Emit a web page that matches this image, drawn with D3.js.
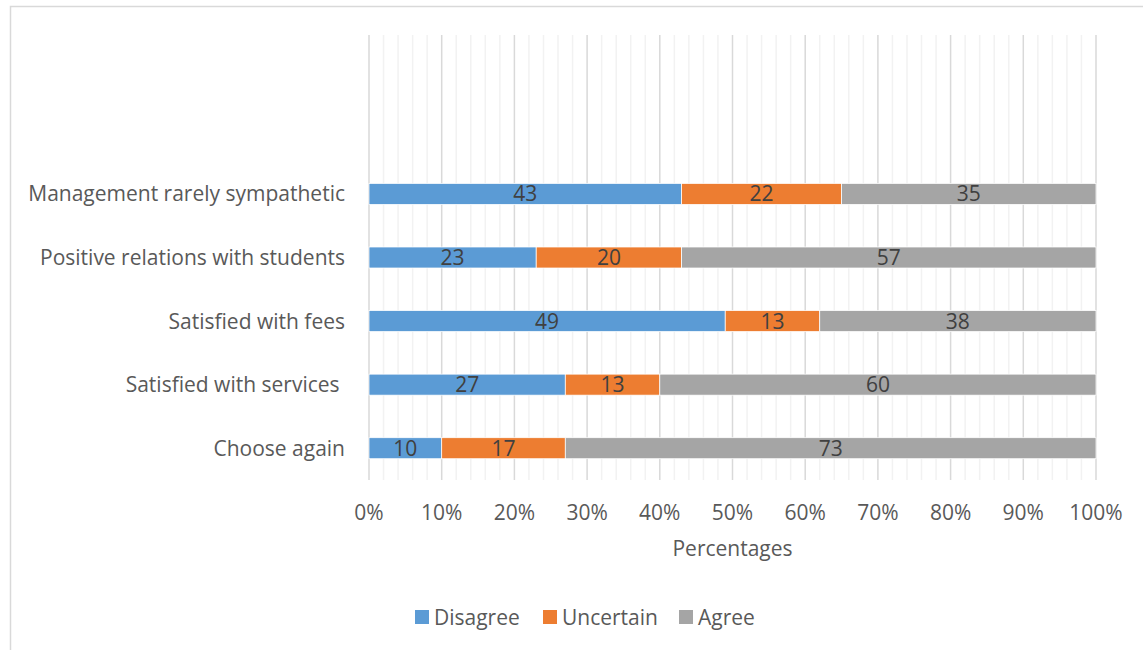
<!DOCTYPE html>
<html><head><meta charset="utf-8">
<script src="https://cdn.jsdelivr.net/npm/d3@7"></script>
<style>body{margin:0;background:#fff}svg{display:block}</style>
</head><body>
<script>
const categories = ["Choose again","Satisfied with services ","Satisfied with fees","Positive relations with students","Management rarely sympathetic"];
const disagree = [10,27,49,23,43];
const uncertain = [17,13,13,20,22];
const agree = [73,60,38,57,35];
const seriesNames = ["Disagree","Uncertain","Agree"];
const colors = ["#5B9BD5","#ED7D31","#A5A5A5"];
const tickLabels = ["0%","10%","20%","30%","40%","50%","60%","70%","80%","90%","100%"];

const W=1143,H=650;
const svg=d3.select("body").append("svg").attr("width",W).attr("height",H);
const font="'Open Sans', Lato, sans-serif";
const fs=21;

// outer border
svg.append("path").attr("d",`M10.5,${H} V6.5 H${W}`).attr("fill","none").attr("stroke","#D9D9D9").attr("stroke-width",1.5);

const x0=369,x1=1096,yTop=35,yBot=480;
const x=d3.scaleLinear().domain([0,100]).range([x0,x1]);
const band=(yBot-yTop)/7;
const y=d3.scaleBand().domain(categories).range([yBot,yBot-5*band]).paddingInner(0.66).paddingOuter(0.33);

// minor grid
const minor=d3.range(0,101,2).filter(v=>v%10!==0);
svg.append("g").selectAll("line").data(minor).join("line")
 .attr("x1",d=>x(d)).attr("x2",d=>x(d)).attr("y1",yTop).attr("y2",yBot)
 .attr("stroke","#F2F2F2").attr("stroke-width",1.5);
const major=d3.range(0,101,10);
svg.append("g").selectAll("line").data(major).join("line")
 .attr("x1",d=>x(d)).attr("x2",d=>x(d)).attr("y1",yTop).attr("y2",yBot)
 .attr("stroke","#D9D9D9").attr("stroke-width",1.5);

const rows=categories.map((c,i)=>({cat:c,Disagree:disagree[i],Uncertain:uncertain[i],Agree:agree[i]}));
const stack=d3.stack().keys(seriesNames)(rows);
const bh=21;
stack.forEach((s,si)=>{
  const g=svg.append("g");
  g.selectAll("rect").data(s).join("rect")
   .attr("x",d=>x(d[0])).attr("width",d=>x(d[1])-x(d[0]))
   .attr("y",d=>y(d.data.cat)+y.bandwidth()/2-bh/2).attr("height",bh)
   .attr("fill",colors[si]).attr("stroke","#fff").attr("stroke-width",0.75);
  g.selectAll("text").data(s).join("text")
   .attr("x",d=>(x(d[0])+x(d[1]))/2).attr("y",d=>y(d.data.cat)+y.bandwidth()/2)
   .attr("dy","0.36em").attr("text-anchor","middle")
   .attr("font-family",font).attr("font-size",fs).attr("fill","#404040")
   .text(d=>d[1]-d[0]);
});

// category labels
svg.append("g").selectAll("text").data(categories).join("text")
 .attr("x",345).attr("y",d=>y(d)+y.bandwidth()/2).attr("dy","0.36em")
 .attr("text-anchor","end").attr("font-family",font).attr("font-size",fs).attr("fill","#595959")
 .attr("xml:space","preserve").style("white-space","pre")
 .text(d=>d);

// x tick labels
svg.append("g").selectAll("text").data(major).join("text")
 .attr("x",d=>x(d)).attr("y",512).attr("dy","0.36em").attr("text-anchor","middle")
 .attr("font-family",font).attr("font-size",fs).attr("fill","#595959")
 .text((d,i)=>tickLabels[i]);

svg.append("text").attr("x",(x0+x1)/2).attr("y",548).attr("dy","0.36em").attr("text-anchor","middle")
 .attr("font-family",font).attr("font-size",fs).attr("fill","#595959").text("Percentages");

// legend
const legX=[415,543,679];
const lg=svg.append("g").selectAll("g").data(seriesNames).join("g")
 .attr("transform",(d,i)=>`translate(${legX[i]},617)`);
lg.append("rect").attr("x",0).attr("y",-7).attr("width",14).attr("height",14).attr("fill",(d,i)=>colors[i]);
lg.append("text").attr("x",19).attr("y",0).attr("dy","0.36em")
 .attr("font-family",font).attr("font-size",fs).attr("fill","#595959").text(d=>d);
</script>
</body></html>
